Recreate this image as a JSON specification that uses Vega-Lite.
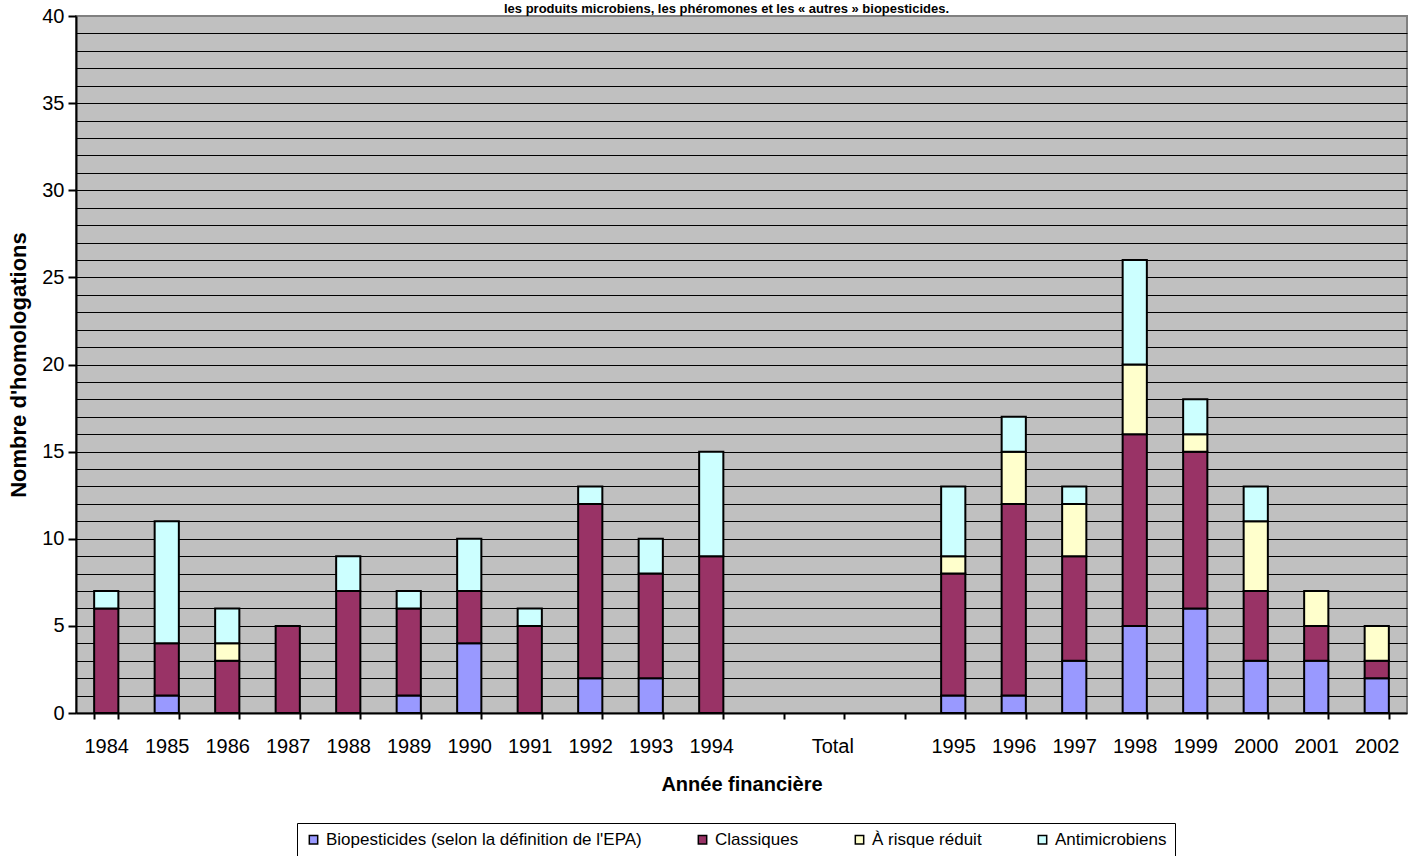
{
  "$schema": "https://vega.github.io/schema/vega-lite/v6.json",
  "width": 1331,
  "height": 697,
  "autosize": {"type": "none"},
  "padding": {"left": 76, "top": 16, "right": 4, "bottom": 143},
  "background": "white",
  "title": {
    "text": "les produits microbiens, les phéromones et les « autres » biopesticides.",
    "font": "Liberation Sans",
    "fontSize": 13,
    "fontWeight": "bold",
    "color": "black",
    "baseline": "bottom",
    "offset": 0,
    "dy": 23,
    "anchor": "middle",
    "dx": -15
  },
  "config": {
    "font": "Liberation Sans",
    "view": {"fill": "#C0C0C0", "stroke": "#808080", "strokeWidth": 2}
  },
  "data": {
    "values": [
      {"year": "1984", "type": "Classiques", "n": 6, "ord": 2},
      {"year": "1984", "type": "Antimicrobiens", "n": 1, "ord": 4},
      {"year": "1985", "type": "Biopesticides (selon la définition de l'EPA)", "n": 1, "ord": 1},
      {"year": "1985", "type": "Classiques", "n": 3, "ord": 2},
      {"year": "1985", "type": "Antimicrobiens", "n": 7, "ord": 4},
      {"year": "1986", "type": "Classiques", "n": 3, "ord": 2},
      {"year": "1986", "type": "À risque réduit", "n": 1, "ord": 3},
      {"year": "1986", "type": "Antimicrobiens", "n": 2, "ord": 4},
      {"year": "1987", "type": "Classiques", "n": 5, "ord": 2},
      {"year": "1988", "type": "Classiques", "n": 7, "ord": 2},
      {"year": "1988", "type": "Antimicrobiens", "n": 2, "ord": 4},
      {"year": "1989", "type": "Biopesticides (selon la définition de l'EPA)", "n": 1, "ord": 1},
      {"year": "1989", "type": "Classiques", "n": 5, "ord": 2},
      {"year": "1989", "type": "Antimicrobiens", "n": 1, "ord": 4},
      {"year": "1990", "type": "Biopesticides (selon la définition de l'EPA)", "n": 4, "ord": 1},
      {"year": "1990", "type": "Classiques", "n": 3, "ord": 2},
      {"year": "1990", "type": "Antimicrobiens", "n": 3, "ord": 4},
      {"year": "1991", "type": "Classiques", "n": 5, "ord": 2},
      {"year": "1991", "type": "Antimicrobiens", "n": 1, "ord": 4},
      {"year": "1992", "type": "Biopesticides (selon la définition de l'EPA)", "n": 2, "ord": 1},
      {"year": "1992", "type": "Classiques", "n": 10, "ord": 2},
      {"year": "1992", "type": "Antimicrobiens", "n": 1, "ord": 4},
      {"year": "1993", "type": "Biopesticides (selon la définition de l'EPA)", "n": 2, "ord": 1},
      {"year": "1993", "type": "Classiques", "n": 6, "ord": 2},
      {"year": "1993", "type": "Antimicrobiens", "n": 2, "ord": 4},
      {"year": "1994", "type": "Classiques", "n": 9, "ord": 2},
      {"year": "1994", "type": "Antimicrobiens", "n": 6, "ord": 4},
      {"year": "1995", "type": "Biopesticides (selon la définition de l'EPA)", "n": 1, "ord": 1},
      {"year": "1995", "type": "Classiques", "n": 7, "ord": 2},
      {"year": "1995", "type": "À risque réduit", "n": 1, "ord": 3},
      {"year": "1995", "type": "Antimicrobiens", "n": 4, "ord": 4},
      {"year": "1996", "type": "Biopesticides (selon la définition de l'EPA)", "n": 1, "ord": 1},
      {"year": "1996", "type": "Classiques", "n": 11, "ord": 2},
      {"year": "1996", "type": "À risque réduit", "n": 3, "ord": 3},
      {"year": "1996", "type": "Antimicrobiens", "n": 2, "ord": 4},
      {"year": "1997", "type": "Biopesticides (selon la définition de l'EPA)", "n": 3, "ord": 1},
      {"year": "1997", "type": "Classiques", "n": 6, "ord": 2},
      {"year": "1997", "type": "À risque réduit", "n": 3, "ord": 3},
      {"year": "1997", "type": "Antimicrobiens", "n": 1, "ord": 4},
      {"year": "1998", "type": "Biopesticides (selon la définition de l'EPA)", "n": 5, "ord": 1},
      {"year": "1998", "type": "Classiques", "n": 11, "ord": 2},
      {"year": "1998", "type": "À risque réduit", "n": 4, "ord": 3},
      {"year": "1998", "type": "Antimicrobiens", "n": 6, "ord": 4},
      {"year": "1999", "type": "Biopesticides (selon la définition de l'EPA)", "n": 6, "ord": 1},
      {"year": "1999", "type": "Classiques", "n": 9, "ord": 2},
      {"year": "1999", "type": "À risque réduit", "n": 1, "ord": 3},
      {"year": "1999", "type": "Antimicrobiens", "n": 2, "ord": 4},
      {"year": "2000", "type": "Biopesticides (selon la définition de l'EPA)", "n": 3, "ord": 1},
      {"year": "2000", "type": "Classiques", "n": 4, "ord": 2},
      {"year": "2000", "type": "À risque réduit", "n": 4, "ord": 3},
      {"year": "2000", "type": "Antimicrobiens", "n": 2, "ord": 4},
      {"year": "2001", "type": "Biopesticides (selon la définition de l'EPA)", "n": 3, "ord": 1},
      {"year": "2001", "type": "Classiques", "n": 2, "ord": 2},
      {"year": "2001", "type": "À risque réduit", "n": 2, "ord": 3},
      {"year": "2002", "type": "Biopesticides (selon la définition de l'EPA)", "n": 2, "ord": 1},
      {"year": "2002", "type": "Classiques", "n": 1, "ord": 2},
      {"year": "2002", "type": "À risque réduit", "n": 2, "ord": 3}
    ]
  },
  "mark": {"type": "bar", "stroke": "black", "strokeWidth": 2},
  "encoding": {
    "x": {
      "field": "year",
      "type": "nominal",
      "sort": null,
      "scale": {
        "domain": ["1984", "1985", "1986", "1987", "1988", "1989", "1990", "1991", "1992", "1993", "1994", " ", "Total", "  ", "1995", "1996", "1997", "1998", "1999", "2000", "2001", "2002"],
        "paddingInner": 0.6,
        "paddingOuter": 0.3
      },
      "axis": {
        "title": "Année financière",
        "titleFontSize": 20,
        "titleFontWeight": "bold",
        "titleColor": "black",
        "titlePadding": 18,
        "labelAngle": 0,
        "labelFontSize": 20,
        "labelColor": "black",
        "labelPadding": 17,
        "tickBand": "extent",
        "tickSize": 6,
        "tickWidth": 2,
        "tickColor": "black",
        "domainColor": "black",
        "domainWidth": 2,
        "grid": false
      }
    },
    "y": {
      "field": "n",
      "type": "quantitative",
      "stack": "zero",
      "scale": {"domain": [0, 40], "nice": false},
      "axis": {
        "title": "Nombre d'homologations",
        "titleFontSize": 22,
        "titleFontWeight": "bold",
        "titleColor": "black",
        "titlePadding": 11,
        "values": [0, 1, 2, 3, 4, 5, 6, 7, 8, 9, 10, 11, 12, 13, 14, 15, 16, 17, 18, 19, 20, 21, 22, 23, 24, 25, 26, 27, 28, 29, 30, 31, 32, 33, 34, 35, 36, 37, 38, 39, 40],
        "labelExpr": "datum.value % 5 === 0 ? datum.label : ''",
        "labelFontSize": 20,
        "labelColor": "black",
        "labelPadding": 4,
        "tickSize": 8,
        "tickWidth": 2,
        "tickColor": "black",
        "tickOpacity": {"condition": {"test": "datum.value % 5 === 0", "value": 1}, "value": 0},
        "grid": true,
        "gridColor": "black",
        "gridWidth": 1.2,
        "gridOpacity": {"condition": {"test": "datum.value === 40 || datum.value === 0", "value": 0}, "value": 1},
        "domainColor": "black",
        "domainWidth": 2
      }
    },
    "color": {
      "field": "type",
      "type": "nominal",
      "scale": {
        "domain": ["Biopesticides (selon la définition de l'EPA)", "Classiques", "À risque réduit", "Antimicrobiens"],
        "range": ["#9999FF", "#993366", "#FFFFCC", "#CCFFFF"]
      },
      "legend": {
        "orient": "none",
        "legendX": 221,
        "legendY": 807,
        "direction": "horizontal",
        "title": null,
        "symbolType": "square",
        "symbolSize": 70,
        "symbolStrokeColor": "black",
        "symbolStrokeWidth": 1.5,
        "symbolOpacity": 1,
        "labelFontSize": 17,
        "labelColor": "black",
        "labelOffset": 4,
        "labelLimit": 500,
        "columnPadding": 52,
        "padding": 8,
        "strokeColor": "black"
      }
    },
    "order": {"field": "ord", "type": "quantitative"}
  }
}
